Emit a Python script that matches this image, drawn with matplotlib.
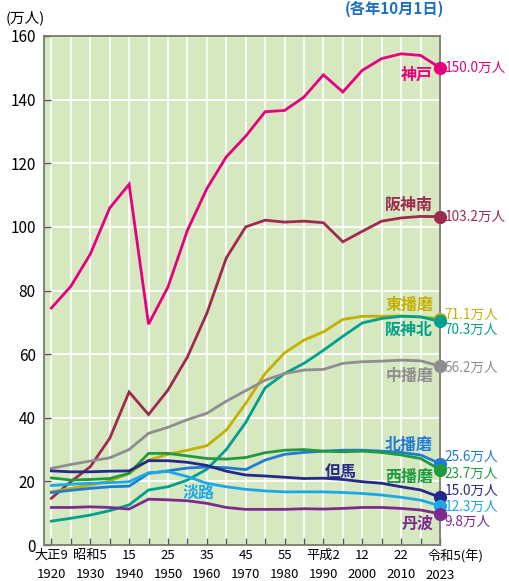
import matplotlib
matplotlib.use("Agg")
import matplotlib.pyplot as plt

plt.rcParams['font.family'] = ['Noto Sans CJK JP', 'DejaVu Sans']

years = [1920, 1925, 1930, 1935, 1940, 1945, 1950, 1955, 1960, 1965, 1970,
         1975, 1980, 1985, 1990, 1995, 2000, 2005, 2010, 2015, 2023]
tick_labels = ["大正9\n1920", "", "昭和5\n1930", "", "15\n1940", "", "25\n1950", "",
               "35\n1960", "", "45\n1970", "", "55\n1980", "", "平成2\n1990", "",
               "12\n2000", "", "22\n2010", "", "令和5(年)\n2023"]

kobe = [74.5, 81.3, 91.4, 105.9, 113.4, 69.4, 81.1, 98.9, 112.0, 122.0, 128.5,
        136.2, 136.6, 140.8, 147.8, 142.4, 149.2, 152.9, 154.4, 153.9, 150.0]
hanshin_minami = [14.7, 19.9, 24.6, 33.5, 48.1, 41.0, 48.7, 59.1, 72.8, 90.2, 100.0,
                  102.1, 101.5, 101.8, 101.3, 95.3, 98.6, 101.8, 102.8, 103.3, 103.2]
higashi_harima = [16.7, 17.8, 18.8, 20.1, 22.5, 26.7, 28.5, 29.8, 31.2, 36.1, 44.5,
                  53.9, 60.4, 64.4, 67.0, 70.9, 71.9, 71.9, 72.0, 71.7, 71.1]
hanshin_kita = [7.5, 8.4, 9.4, 10.8, 12.6, 17.3, 18.3, 20.4, 23.8, 30.0, 38.5,
                49.4, 53.9, 57.1, 61.2, 65.6, 69.8, 71.2, 71.9, 71.7, 70.3]
naka_harima = [24.1, 25.3, 26.4, 27.4, 30.0, 35.1, 37.0, 39.4, 41.4, 45.2, 48.5,
               51.8, 53.9, 55.0, 55.2, 57.1, 57.6, 57.8, 58.1, 57.9, 56.2]
kita_harima = [16.5, 17.2, 17.8, 18.3, 18.5, 22.5, 23.3, 24.2, 24.5, 24.3, 23.7,
               26.7, 28.5, 29.1, 29.5, 29.8, 29.8, 29.5, 29.1, 28.3, 25.6]
nishi_harima = [21.1, 20.4, 20.6, 20.9, 22.5, 28.8, 28.8, 28.0, 27.2, 27.0, 27.5,
                29.0, 29.8, 30.0, 29.5, 29.3, 29.5, 29.1, 28.3, 27.2, 23.7]
tajima = [23.3, 23.0, 23.0, 23.2, 23.3, 26.5, 26.5, 26.0, 25.0, 23.2, 22.0,
          21.7, 21.3, 20.9, 21.0, 20.6, 19.9, 19.4, 18.3, 17.3, 15.0]
awaji = [18.7, 19.1, 19.4, 19.6, 19.9, 22.7, 23.1, 21.5, 19.4, 18.3, 17.5,
         17.0, 16.7, 16.7, 16.7, 16.5, 16.2, 15.7, 15.0, 14.1, 12.3]
tamba = [11.8, 11.8, 12.0, 11.8, 11.3, 14.4, 14.2, 13.9, 13.1, 11.8, 11.2,
         11.2, 11.2, 11.4, 11.3, 11.5, 11.8, 11.8, 11.5, 11.0, 9.8]

# (name, values, colour, name-label y, value-label y)
series = [
    ("神戸", kobe, "#e5007f", 148.0, 150.0),
    ("阪神南", hanshin_minami, "#9e2a4e", 106.8, 103.2),
    ("東播磨", higashi_harima, "#c4b000", 75.4, 72.2),
    ("阪神北", hanshin_kita, "#00a08c", 67.5, 67.6),
    ("中播磨", naka_harima, "#8e8e8e", 53.1, 55.6),
    ("北播磨", kita_harima, "#1f7bd4", 31.4, 27.6),
    ("西播磨", nishi_harima, "#1f9a3e", 21.5, 22.5),
    ("但馬", tajima, "#26288c", 23.0, 17.1),
    ("淡路", awaji, "#1aa8e8", 16.4, 12.1),
    ("丹波", tamba, "#7b2a8e", 6.6, 7.3),
]
name_x = {"但馬": 14.9, "淡路": 7.6}

fig = plt.figure(figsize=(5.10, 5.81), dpi=100)
ax = fig.add_axes([44/510, 36/581, 396/510, 509/581])
ax.set_facecolor("#d5e8c0")

x = list(range(len(years)))
ax.set_xlim(-0.38, 20)
ax.set_ylim(0, 160)

for v in x:
    ax.axvline(v, color="white", lw=1.3, zorder=1)
for v in range(20, 160, 20):
    ax.axhline(v, color="white", lw=1.3, zorder=1)

for name, vals, col, ly, vy in series:
    ax.plot(x, vals, color=col, lw=2.0, zorder=3, solid_joinstyle="miter")
    ax.plot([x[-1]], [vals[-1]], "o", color=col, ms=8.5, zorder=5, clip_on=False)
    if name in name_x:
        ax.text(name_x[name], ly, name, color=col, fontsize=11.5, ha="center", va="center",
                fontweight="bold", zorder=6)
    else:
        ax.text(19.65, ly, name, color=col, fontsize=11.5, ha="right", va="center",
                fontweight="bold", zorder=6)
    ax.annotate(f"{vals[-1]:.1f}万人", xy=(20, vy), xytext=(3.5, 0),
                textcoords="offset points", color=col, fontsize=9.8, ha="left",
                va="center", annotation_clip=False)

# x tick labels: the last one is drawn separately (its top line sits to the right)
last_top, last_bottom = tick_labels[-1].split("\n")
labels_main = tick_labels[:-1] + [""]
ax.set_xticks(x)
ax.set_xticklabels(labels_main, fontsize=9.5, linespacing=1.55)
ax.annotate(last_top, xy=(20, 0), xytext=(-9, -3), textcoords="offset points",
            ha="left", va="top", fontsize=9.5, annotation_clip=False)
ax.annotate(last_bottom, xy=(20, 0), xytext=(0, -17.5), textcoords="offset points",
            ha="center", va="top", fontsize=9.5, annotation_clip=False)

ax.set_yticks(range(0, 161, 20))
ax.set_yticklabels([str(v) for v in range(0, 161, 20)], fontsize=11)
ax.tick_params(axis="x", direction="in", length=5, width=1, color="#555555", pad=3)
ax.tick_params(axis="y", direction="in", length=5, width=1, color="#555555", pad=6)
for s in ax.spines.values():
    s.set_color("#7a7a70")
    s.set_linewidth(1.3)

fig.text(6/510, 1 - 18/581, "(万人)", fontsize=10.5, ha="left", va="center")
fig.text(394/510, 1 - 9/581, "(各年10月1日)", fontsize=11, ha="center", va="center",
         color="#1a6fc0", fontweight="bold")

fig.savefig("out.png", dpi=100)
